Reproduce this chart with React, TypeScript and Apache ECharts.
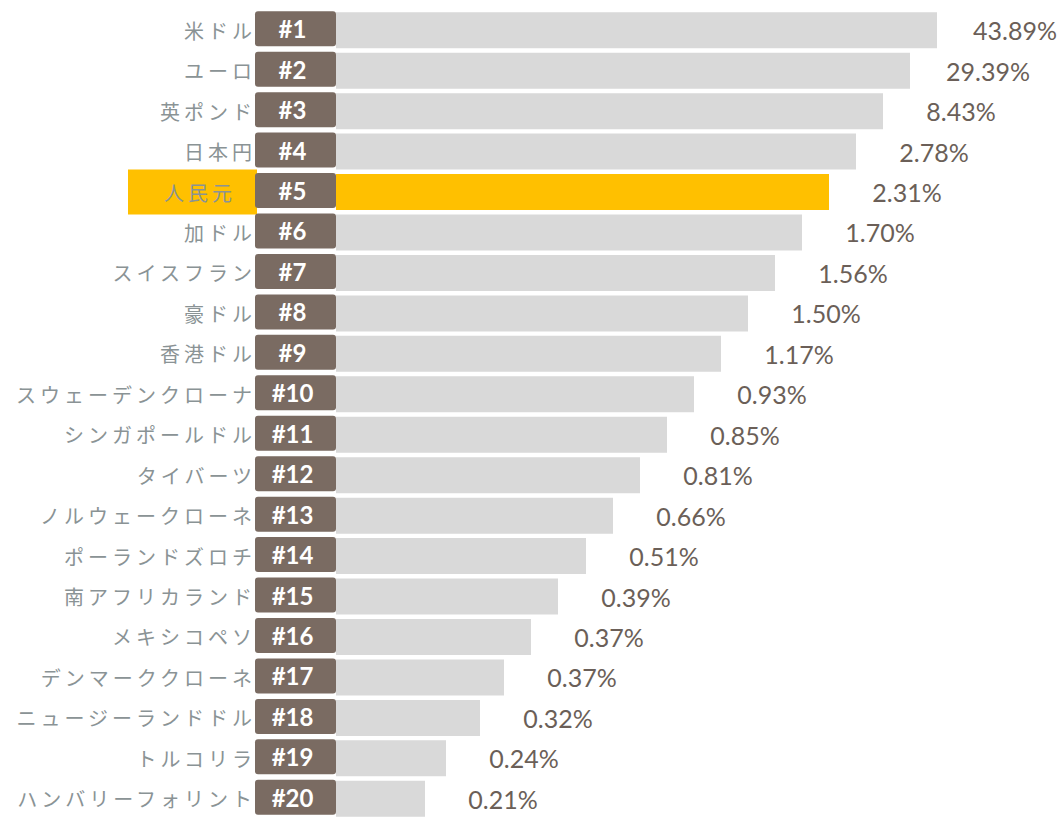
import React, { useEffect, useRef } from 'react';
import * as echarts from 'echarts';

const currencies = [
  '米ドル', 'ユーロ', '英ポンド', '日本円', '人民元', '加ドル', 'スイスフラン', '豪ドル', '香港ドル',
  'スウェーデンクローナ', 'シンガポールドル', 'タイバーツ', 'ノルウェークローネ', 'ポーランドズロチ',
  '南アフリカランド', 'メキシコペソ', 'デンマーククローネ', 'ニュージーランドドル', 'トルコリラ', 'ハンバリーフォリント',
];
const ranks = [
  '#1', '#2', '#3', '#4', '#5', '#6', '#7', '#8', '#9', '#10',
  '#11', '#12', '#13', '#14', '#15', '#16', '#17', '#18', '#19', '#20',
];
const shares = [
  43.89, 29.39, 8.43, 2.78, 2.31, 1.70, 1.56, 1.50, 1.17, 0.93,
  0.85, 0.81, 0.66, 0.51, 0.39, 0.37, 0.37, 0.32, 0.24, 0.21,
];
// decorative bar lengths (display units)
const barLength = [
  601, 574, 547, 520, 493, 466, 439, 412, 385, 358,
  331, 304, 277, 250, 222, 195, 168, 144, 110, 89,
];
const highlightIndex = 4;

export default function App() {
  const ref = useRef<HTMLDivElement>(null);
  useEffect(() => {
    if (!ref.current) return;
    const chart = echarts.init(ref.current, undefined, { renderer: 'svg' });
    chart.setOption({
      animation: false,
      grid: { left: 336, top: 10, width: 723, height: 815 },
      xAxis: { type: 'value', min: 0, max: 723, show: false },
      yAxis: [
        {
          type: 'category',
          data: currencies,
          inverse: true,
          position: 'left',
          axisLine: { show: false },
          axisTick: { show: false },
          splitLine: { show: false },
          axisLabel: {
            interval: 0,
            margin: 79,
            align: 'right',
            formatter: (v: string, i: number) => (i === highlightIndex ? `{hl|${v}}` : `{n|${v}}`),
            rich: {
              n: {
                fontFamily: 'Noto Sans CJK JP',
                fontSize: 20,
                color: '#8a9395',
                padding: [0, 1, 0, 0],
              },
              hl: {
                fontFamily: 'Noto Sans CJK JP',
                fontSize: 20,
                color: '#8a9395',
                backgroundColor: '#ffc000',
                width: 108,
                height: 45,
                align: 'right',
                verticalAlign: 'middle',
                padding: [0, 21, 0, 0],
              },
            },
          },
        },
        {
          type: 'category',
          data: ranks,
          inverse: true,
          position: 'left',
          axisLine: { show: false },
          axisTick: { show: false },
          splitLine: { show: false },
          axisLabel: {
            interval: 0,
            margin: 0,
            align: 'right',
            padding: [0, 0, 3, 0],
            formatter: (v: string) => `{b|${v}}`,
            rich: {
              b: {
                width: 75,
                height: 35,
                padding: [0, 6, 0, 0],
                backgroundColor: '#7a6b62',
                borderRadius: 3,
                align: 'center',
                verticalAlign: 'middle',
                color: '#ffffff',
                fontFamily: 'Lato',
                fontWeight: 'bold',
                fontSize: 24,
              },
            },
          },
        },
      ],
      series: [
        {
          type: 'bar',
          data: barLength.map((v, i) => ({
            value: v,
            itemStyle: { color: i === highlightIndex ? '#ffc000' : '#d9d9d9' },
          })),
          barWidth: 36,
          label: {
            show: true,
            position: 'right',
            distance: 78,
            align: 'center',
            formatter: (p: any) => shares[p.dataIndex].toFixed(2) + '%',
            fontFamily: 'Lato',
            fontSize: 25,
            color: '#6b5f58',
          },
        },
      ],
    });
    return () => chart.dispose();
  }, []);
  return (
    <>
      <style>{`text[style*="Noto Sans CJK JP"] { letter-spacing: 4px; }`}</style>
      <div
        ref={ref}
        style={{ position: 'fixed', left: 0, top: 0, width: 1059, height: 819, background: '#ffffff' }}
      />
    </>
  );
}
